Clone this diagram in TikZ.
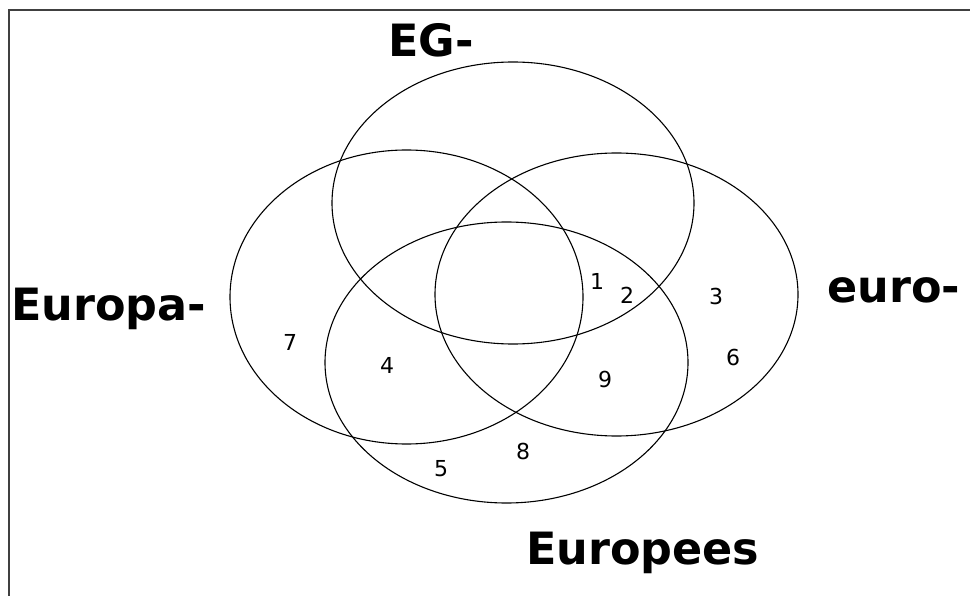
\documentclass[tikz,border=0pt]{standalone}
\usepackage{fontspec}
\setmainfont{DejaVu Sans}
\tikzset{
  setline/.style={draw=black, line width=1.1pt},
  framestyle/.style={draw=black!75, line width=2pt},
  biglabel/.style={inner sep=0pt, font=\bfseries\fontsize{44.5}{44.5}\selectfont},
  numlabel/.style={inner sep=0pt, font=\fontsize{22}{22}\selectfont},
}
\begin{document}
\begin{tikzpicture}[x=1pt, y=-1pt]
\useasboundingbox (0,0) rectangle (970,596);
\fill[white] (0,0) rectangle (970,596);
% frame (only top and left edges visible)
\coordinate (fb) at (9,596);
\coordinate (ftl) at (9,10);
\coordinate (fr) at (970,10);
\draw[framestyle] (fb) -- (ftl) -- (fr);
% ellipse centres
\coordinate (cEG) at (513,203);
\coordinate (cEuropa) at (406.5,297);
\coordinate (cEuro) at (616.5,294.5);
\coordinate (cEuropees) at (506.5,362.5);
\draw[setline] (cEG) ellipse [x radius=181, y radius=141];
\draw[setline] (cEuropa) ellipse [x radius=176.5, y radius=147];
\draw[setline] (cEuro) ellipse [x radius=181.5, y radius=141.5];
\draw[setline] (cEuropees) ellipse [x radius=181.5, y radius=140.5];
% set labels
\node[biglabel, anchor=base] (lEG) at (431,57) {EG-};
\node[biglabel, anchor=base west] (lEuropa) at (11,320) {Europa-};
\node[biglabel, anchor=base west] (lEuro) at (827,302) {euro-};
\node[biglabel, anchor=base west] (lEuropees) at (526,564) {Europees};
% region numbers
\node[numlabel] (n1) at (597,281) {1};
\node[numlabel] (n2) at (627,295) {2};
\node[numlabel] (n3) at (716,296) {3};
\node[numlabel] (n4) at (387,365) {4};
\node[numlabel] (n5) at (441,469) {5};
\node[numlabel] (n6) at (733,357) {6};
\node[numlabel] (n7) at (290,342) {7};
\node[numlabel] (n8) at (523,451) {8};
\node[numlabel] (n9) at (605,379) {9};
\end{tikzpicture}
\end{document}
